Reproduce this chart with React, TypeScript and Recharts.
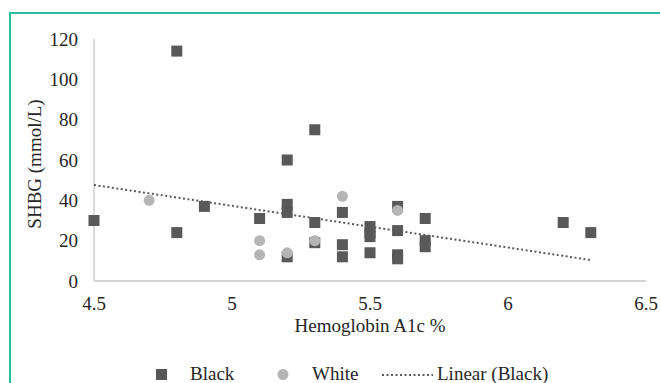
import { Label, Scatter, ScatterChart, XAxis, YAxis } from 'recharts';

const SERIF = '"Liberation Serif", "Times New Roman", serif';

const X_TICKS = [4.5, 5, 5.5, 6, 6.5];
const Y_TICKS = [0, 20, 40, 60, 80, 100, 120];

// Black participants (HbA1c %, SHBG)
const blackA1c = [4.5, 4.8, 4.8, 4.9, 5.1, 5.2, 5.2, 5.2, 5.2, 5.3, 5.3, 5.3, 5.4, 5.4, 5.4, 5.5, 5.5, 5.5, 5.5, 5.6, 5.6, 5.6, 5.6, 5.7, 5.7, 5.7, 6.2, 6.3];
const blackShbg = [30, 114, 24, 37, 31, 60, 38, 34, 12, 75, 29, 19, 34, 18, 12, 27, 24, 22, 14, 37, 25, 13, 11, 31, 20, 17, 29, 24];

// White participants
const whiteA1c = [4.7, 5.1, 5.1, 5.2, 5.3, 5.4, 5.6];
const whiteShbg = [40, 20, 13, 14, 20, 42, 35];

// Linear trendline (Black), endpoints
const trendA1c = [4.5, 6.3];
const trendShbg = [47.6, 10.4];

const blackData = blackA1c.map((x, i) => ({ x, y: blackShbg[i] }));
const whiteData = whiteA1c.map((x, i) => ({ x, y: whiteShbg[i] }));
const trendData = trendA1c.map((x, i) => ({ x, y: trendShbg[i] }));

const DARK = '#595959';
const LIGHT = '#b5b5b5';
const TEXT = '#262626';
const textStyle = { fontFamily: SERIF, fontSize: 19, fill: TEXT };

const square = (props: any) => (
  <rect x={props.cx - 5.5} y={props.cy - 5.5} width={11} height={11} fill={DARK} />
);
const circle = (props: any) => <circle cx={props.cx} cy={props.cy} r={5.5} fill={LIGHT} />;
const none = () => <g />;

const xTick = (p: any) => (
  <text x={p.x} y={p.y + 13} textAnchor="middle" style={textStyle}>
    {p.payload.value}
  </text>
);
const yTick = (p: any) => (
  <text x={p.x} y={p.y} textAnchor="end" dominantBaseline="central" style={textStyle}>
    {p.payload.value}
  </text>
);

export default function App() {
  return (
    <div style={{ position: 'absolute', left: 0, top: 0, width: 660, height: 383, background: '#fff' }}>
      <div
        style={{
          position: 'absolute',
          left: 9,
          top: 12,
          right: 0,
          bottom: 0,
          borderTop: '2px solid #2bbf9f',
          borderLeft: '2px solid #2bbf9f',
        }}
      />
      <div style={{ position: 'absolute', left: 0, top: 0 }}>
        <ScatterChart width={660} height={383} margin={{ top: 39, right: 14, bottom: 72, left: 0 }}>
          <XAxis
            type="number"
            dataKey="x"
            domain={[4.5, 6.5]}
            ticks={X_TICKS}
            height={30}
            tickLine={false}
            tickSize={6}
            tickMargin={10}
            axisLine={{ stroke: '#c6c6c6', strokeWidth: 1.5 }}
            tick={xTick}
            interval={0}
          >
            <Label
              content={(p: any) => (
                <text
                  x={p.viewBox.x + p.viewBox.width / 2}
                  y={p.viewBox.y + 51}
                  textAnchor="middle"
                  style={textStyle}
                >
                  Hemoglobin A1c %
                </text>
              )}
            />
          </XAxis>
          <YAxis
            type="number"
            dataKey="y"
            domain={[0, 120]}
            ticks={Y_TICKS}
            width={94}
            tickLine={false}
            tickSize={6}
            tickMargin={10}
            axisLine={{ stroke: '#cfcfcf', strokeWidth: 1.5 }}
            tick={yTick}
            interval={0}
          >
            <Label
              content={(p: any) => {
                const cx = p.viewBox.x + 34;
                const cy = p.viewBox.y + p.viewBox.height / 2 + 4;
                return (
                  <text
                    x={cx}
                    y={cy}
                    transform={`rotate(-90, ${cx}, ${cy})`}
                    textAnchor="middle"
                    dominantBaseline="central"
                    style={textStyle}
                  >
                    SHBG (mmol/L)
                  </text>
                );
              }}
            />
          </YAxis>
          <Scatter name="Black" data={blackData} shape={square} isAnimationActive={false} />
          <Scatter name="White" data={whiteData} shape={circle} isAnimationActive={false} />
          <Scatter
            name="Linear (Black)"
            data={trendData}
            shape={none}
            line={{ stroke: '#5a5a5a', strokeWidth: 2, strokeDasharray: '2 2.5' }}
            isAnimationActive={false}
          />
        </ScatterChart>
      </div>
      <svg
        width={660}
        height={383}
        style={{ position: 'absolute', left: 0, top: 0, pointerEvents: 'none' }}
      >
        <rect x={156} y={369} width={11} height={11} fill={DARK} />
        <text x={190} y={380} style={textStyle}>
          Black
        </text>
        <circle cx={283} cy={374.5} r={5.5} fill={LIGHT} />
        <text x={312} y={380} style={textStyle}>
          White
        </text>
        <line x1={382} y1={375} x2={433} y2={375} stroke="#5a5a5a" strokeWidth={2} strokeDasharray="2 2.5" />
        <text x={437} y={380} style={textStyle}>
          Linear (Black)
        </text>
      </svg>
    </div>
  );
}
